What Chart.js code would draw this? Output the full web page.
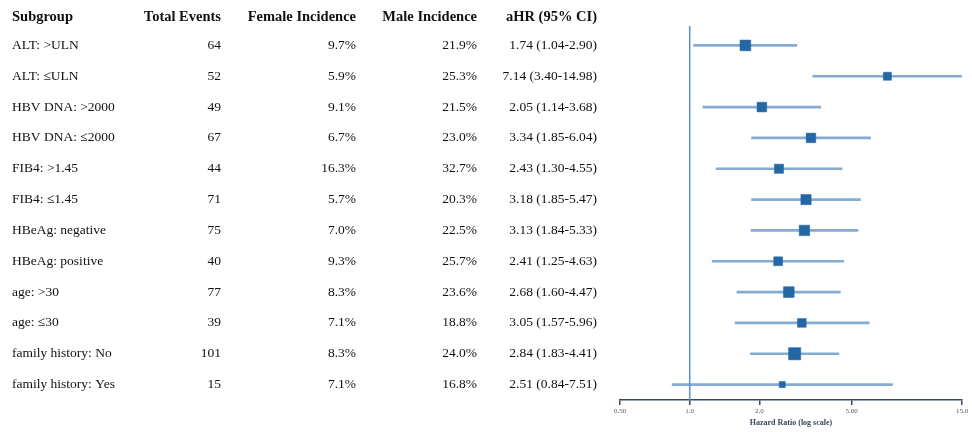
<!DOCTYPE html>
<html>
<head>
<meta charset="utf-8">
<script src="https://cdn.jsdelivr.net/npm/chart.js@4"></script>
<style>
  html, body { margin: 0; padding: 0; background: #fff; }
  #wrap { width: 972px; height: 432px; position: relative; }
</style>
</head>
<body>
<div id="wrap"><canvas id="forestCanvas"></canvas></div>
<script>
const subgroups = ['ALT: >ULN', 'ALT: \u2264ULN', 'HBV DNA: >2000', 'HBV DNA: \u22642000', 'FIB4: >1.45', 'FIB4: \u22641.45',
  'HBeAg: negative', 'HBeAg: positive', 'age: >30', 'age: \u226430', 'family history: No', 'family history: Yes'];
const totalEvents = [64, 52, 49, 67, 44, 71, 75, 40, 77, 39, 101, 15];
const femaleIncidence = [9.7, 5.9, 9.1, 6.7, 16.3, 5.7, 7.0, 9.3, 8.3, 7.1, 8.3, 7.1];
const maleIncidence = [21.9, 25.3, 21.5, 23.0, 32.7, 20.3, 22.5, 25.7, 23.6, 18.8, 24.0, 16.8];
const hazardRatio = [1.74, 7.14, 2.05, 3.34, 2.43, 3.18, 3.13, 2.41, 2.68, 3.05, 2.84, 2.51];
const ciLower = [1.04, 3.40, 1.14, 1.85, 1.30, 1.85, 1.84, 1.25, 1.60, 1.57, 1.83, 0.84];
const ciUpper = [2.90, 14.98, 3.68, 6.04, 4.55, 5.47, 5.33, 4.63, 4.47, 5.96, 4.41, 7.51];
const tickValues = [0.5, 1, 2, 5, 15];
const tickLabels = ['0.50', '1.0', '2.0', '5.00', '15.0'];

const serif = '"Liberation Serif", "DejaVu Serif", serif';
const axisColor = '#34495e';

// box size from precision of the estimate (narrower CI -> bigger square)
const markerRadius = ciLower.map((lo, i) => {
  const w = 1 / Math.log(ciUpper[i] / lo);
  return (2 + 9 * w) / Math.SQRT2;
});

const tablePlugin = {
  id: 'tableText',
  beforeDatasetsDraw(chart) {
    const ctx = chart.ctx;
    const x = chart.scales.x;
    const area = chart.chartArea;
    const xp = x.getPixelForValue(1);
    ctx.save();
    ctx.strokeStyle = '#5b8fc3';
    ctx.lineWidth = 1.5;
    ctx.beginPath();
    ctx.moveTo(xp, area.top - 4);
    ctx.lineTo(xp, area.bottom);
    ctx.stroke();
    ctx.restore();
  },
  afterDraw(chart) {
    const ctx = chart.ctx;
    const y = chart.scales.y;
    ctx.save();
    ctx.fillStyle = '#111';
    ctx.textBaseline = 'middle';

    ctx.font = 'bold 14.5px ' + serif;
    const headY = 17;
    ctx.textAlign = 'left';
    ctx.fillText('Subgroup', 12, headY);
    ctx.textAlign = 'right';
    ctx.fillText('Total Events', 221, headY);
    ctx.fillText('Female Incidence', 356, headY);
    ctx.fillText('Male Incidence', 477, headY);
    ctx.fillText('aHR (95% CI)', 597, headY);

    ctx.font = '13.5px ' + serif;
    subgroups.forEach((name, i) => {
      const yp = y.getPixelForValue(i);
      ctx.textAlign = 'left';
      ctx.fillText(name, 12, yp);
      ctx.textAlign = 'right';
      ctx.fillText(String(totalEvents[i]), 221, yp);
      ctx.fillText(femaleIncidence[i].toFixed(1) + '%', 356, yp);
      ctx.fillText(maleIncidence[i].toFixed(1) + '%', 477, yp);
      ctx.fillText(hazardRatio[i].toFixed(2) + ' (' + ciLower[i].toFixed(2) + '-' + ciUpper[i].toFixed(2) + ')', 597, yp);
    });
    ctx.restore();
  }
};

const forestCanvas = document.getElementById('forestCanvas');
new Chart(forestCanvas, {
  type: 'bar',
  data: {
    labels: subgroups,
    datasets: [{
      type: 'bar',
      indexAxis: 'y',
      data: ciLower.map((lo, i) => [lo, ciUpper[i]]),
      backgroundColor: 'rgba(91,143,195,0.75)',
      barThickness: 2,
      borderSkipped: false,
      order: 2
    }, {
      type: 'line',
      indexAxis: 'y',
      data: hazardRatio,
      showLine: false,
      pointStyle: 'rect',
      pointRadius: markerRadius,
      pointBackgroundColor: '#2467a5',
      pointBorderColor: '#2467a5',
      pointBorderWidth: 0.5,
      order: 1
    }]
  },
  options: {
    indexAxis: 'y',
    responsive: true,
    maintainAspectRatio: false,
    animation: false,
    layout: { padding: { left: 620, right: 10, top: 30, bottom: 4 } },
    plugins: {
      legend: { display: false },
      tooltip: { enabled: false }
    },
    scales: {
      y: { type: 'category', display: false, offset: true },
      x: {
        type: 'logarithmic',
        min: 0.5,
        max: 15,
        afterBuildTicks: (axis) => { axis.ticks = tickValues.map(v => ({ value: v })); },
        border: { display: true, color: axisColor, width: 1.5 },
        grid: { drawOnChartArea: false, drawTicks: true, tickLength: 5, color: axisColor, lineWidth: 1.5 },
        ticks: {
          autoSkip: false,
          maxRotation: 0,
          padding: 2,
          color: '#555',
          font: { family: serif, size: 7 },
          callback: (value, index) => tickLabels[index]
        },
        title: {
          display: true,
          text: 'Hazard Ratio (log scale)',
          color: axisColor,
          padding: { top: 1, bottom: 0 },
          font: { family: serif, size: 8, weight: 'bold' }
        }
      }
    }
  },
  plugins: [tablePlugin]
});
</script>
</body>
</html>
